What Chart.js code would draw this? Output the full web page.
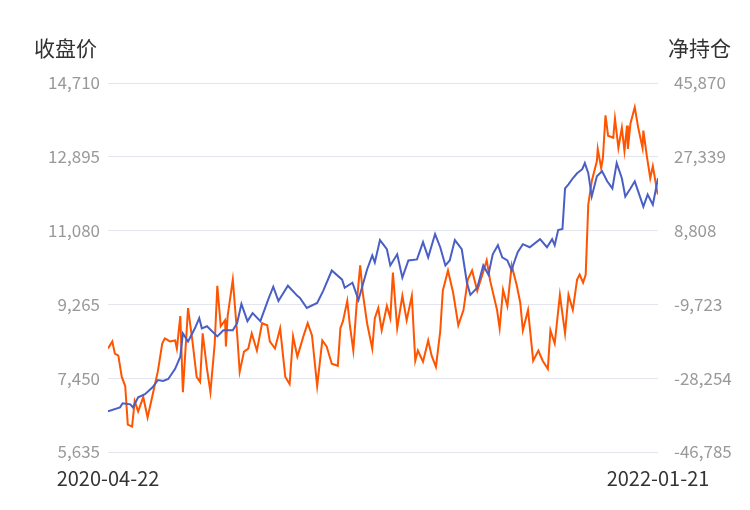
<!DOCTYPE html>
<html>
<head>
<meta charset="utf-8">
<script src="https://cdn.jsdelivr.net/npm/chart.js@4"></script>
<style>
  body { margin: 0; background: #fff; }
  #wrap { width: 750px; height: 510px; }
</style>
</head>
<body>
<div id="wrap"><canvas id="c"></canvas></div>
<script>
// x = calendar days since the first date
const startDate = '2020-04-22';
const endDate = '2022-01-21';
const dayCount = 639;

const leftTicks = [5635, 7450, 9265, 11080, 12895, 14710];
const rightTicks = [-46785, -28254, -9723, 8808, 27339, 45870];

// 收盘价
const closeDays = [0,14,17,26,29,35,43,52,58,64,70,78,84,87,93,101,106,109,115,127,134,145,150,155,162,168,177,186,192,198,209,220,223,231,243,250,260,272,275,284,291,301,307,310,316,324,328,336,342,349,359,366,372,380,386,392,397,403,411,417,421,429,436,442,447,453,458,464,469,471,476,482,490,502,510,516,519,523,528,531,535,540,545,551,554,558,562,568,574,580,586,591,597,601,607,612,622,627,633,639];
const closeValues = [6633,6733,6832,6807,6733,6982,7057,7231,7406,7381,7430,7680,7979,8552,8353,8677,8926,8677,8727,8478,8627,8627,8802,9275,8852,9051,8852,9375,9699,9350,9724,9475,9425,9176,9300,9599,10098,9874,9674,9799,9375,10123,10472,10297,10846,10622,10223,10497,9923,10347,10372,10796,10422,10995,10671,10223,10347,10846,10622,9799,9500,9674,10223,9998,10497,10721,10422,10347,10098,10248,10547,10746,10671,10871,10671,10871,10721,11095,11120,12117,12217,12367,12491,12591,12741,12491,11918,12416,12541,12292,12117,12741,12367,11918,12117,12292,11669,11968,11718,12367];

// 净持仓
const netDays = [0,5,8,12,16,20,23,28,31,35,41,46,52,58,63,66,72,78,80,84,87,93,98,103,107,110,115,119,124,127,131,136,137,139,145,150,153,158,163,167,173,179,185,188,194,200,206,211,215,220,227,232,237,243,249,254,260,267,270,273,278,281,285,289,293,296,301,307,310,314,318,324,328,331,336,342,347,353,357,360,366,372,376,381,386,389,395,401,407,413,418,423,429,435,440,444,452,455,459,464,469,475,479,482,488,494,500,505,511,514,519,525,531,535,540,545,548,552,555,558,562,568,569,573,575,578,581,587,589,593,597,600,603,604,607,612,616,621,622,626,630,633,638,639];
const netValues = [-20809,-19028,-22081,-22590,-27935,-30225,-39897,-40406,-34043,-36588,-33025,-38115,-32262,-26408,-19537,-18264,-19028,-18773,-20809,-12665,-31753,-10629,-18773,-27935,-29207,-16992,-25899,-31753,-19537,-5030,-15210,-13683,-20300,-12665,-3503,-16992,-26663,-21573,-20809,-16992,-21318,-14447,-14956,-19028,-20809,-15719,-27935,-29717,-17755,-22845,-17755,-14447,-17501,-30225,-18773,-20300,-24627,-25136,-15719,-13938,-8848,-14956,-21318,-9357,60,-6812,-14447,-20809,-13174,-10629,-16228,-10120,-13174,-1722,-15719,-7576,-13683,-7576,-23863,-21318,-24118,-18773,-22590,-25390,-16483,-6303,-1213,-6812,-14956,-11138,-3503,-1213,-6303,-2231,1332,-3758,-11138,-15719,-6048,-10120,60,-5030,-9357,-16228,-11138,-23863,-21318,-23863,-25899,-16228,-19537,-7321,-16992,-7321,-11138,-3503,-2231,-4267,-2231,15330,21183,26273,29327,24492,27037,37726,32636,32127,36963,29582,34672,28818,35181,29327,35690,39762,34672,29582,33909,27546,21947,24999,18646,17882];

const toPoints = (xs, ys) => xs.map((x, i) => ({ x: x, y: ys[i] }));
const fmt = v => Math.round(v).toLocaleString('en-US');
const tickFont = { size: 17, family: "'Noto Sans CJK SC'" };

const titles = {
  id: 'titles',
  afterDraw(chart) {
    const ctx = chart.ctx;
    ctx.save();
    ctx.font = "21px 'Noto Sans CJK SC'";
    ctx.fillStyle = '#333';
    ctx.textBaseline = 'middle';
    ctx.textAlign = 'left';
    ctx.fillText('收盘价', 34, 48);
    ctx.textAlign = 'right';
    ctx.fillText('净持仓', 731, 48);
    ctx.restore();
  }
};

new Chart(document.getElementById('c'), {
  type: 'line',
  data: {
    datasets: [
      {
        label: '收盘价',
        data: toPoints(closeDays, closeValues),
        borderColor: '#4a5fc6',
        borderWidth: 2,
        pointRadius: 0,
        tension: 0,
        yAxisID: 'y'
      },
      {
        label: '净持仓',
        data: toPoints(netDays, netValues),
        borderColor: '#ff5400',
        borderWidth: 2,
        pointRadius: 0,
        tension: 0,
        yAxisID: 'y1'
      }
    ]
  },
  options: {
    responsive: true,
    maintainAspectRatio: false,
    animation: false,
    layout: { padding: { top: 83, left: 10, right: 0, bottom: 14 } },
    plugins: { legend: { display: false }, tooltip: { enabled: false } },
    scales: {
      x: {
        type: 'linear',
        min: 0,
        max: dayCount,
        grid: { display: false },
        border: { display: false },
        afterBuildTicks: ax => { ax.ticks = [{ value: 0 }, { value: dayCount }]; },
        ticks: {
          maxRotation: 0,
          color: '#333',
          font: { size: 20, family: "'Noto Sans CJK SC'" },
          padding: 6,
          callback: v => (v === 0 ? startDate : endDate)
        }
      },
      y: {
        position: 'left',
        min: leftTicks[0],
        max: leftTicks[leftTicks.length - 1],
        afterBuildTicks: ax => { ax.ticks = leftTicks.map(v => ({ value: v })); },
        afterFit: ax => { ax.width = 98; },
        grid: { color: '#e3e6ee', drawTicks: false },
        border: { display: false },
        ticks: { color: '#999', font: tickFont, padding: 8, callback: fmt }
      },
      y1: {
        position: 'right',
        min: rightTicks[0],
        max: rightTicks[rightTicks.length - 1],
        afterBuildTicks: ax => { ax.ticks = rightTicks.map(v => ({ value: v })); },
        afterFit: ax => { ax.width = 92; },
        grid: { display: false },
        border: { display: false },
        ticks: { color: '#999', font: tickFont, padding: 8, callback: fmt }
      }
    }
  },
  plugins: [titles]
});
</script>
</body>
</html>
